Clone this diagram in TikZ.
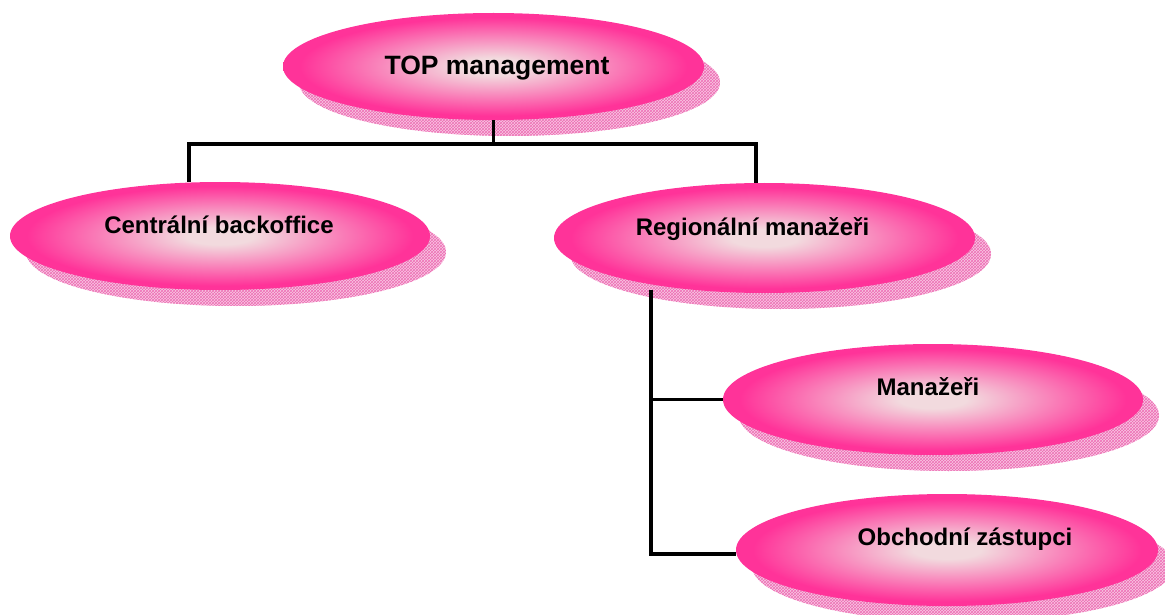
\documentclass[tikz,border=0pt]{standalone}
\usepackage{fontspec}
\setmainfont{Liberation Sans}
\usetikzlibrary{shapes.geometric,shadows,patterns,calc}
\definecolor{pcenter}{RGB}{242,218,222}
\definecolor{pedge}{RGB}{255,51,153}
\definecolor{shadowfill}{RGB}{248,200,228}
\definecolor{shadowline}{RGB}{238,110,180}
\pgfdeclareradialshading{pinkball}{\pgfpointorigin}{color(0bp)=(pcenter); color(4bp)=(pcenter); color(23bp)=(pedge); color(25bp)=(pedge); color(50bp)=(pedge)}
\tikzset{
  ell/.style={ellipse, inner sep=0pt, draw=none, shading=pinkball,
    general shadow={shadow xshift=16pt, shadow yshift=-16pt, fill=shadowfill},
    general shadow={shadow xshift=16pt, shadow yshift=-16pt, pattern=crosshatch, pattern color=shadowline}},
  lbl/.style={anchor=base, font=\bfseries\fontsize{24}{28}\selectfont, inner sep=0pt},
  conn/.style={line width=3.3pt, black, line cap=butt, line join=miter}
}
\begin{document}
\begin{tikzpicture}[x=1pt,y=-1pt]
\useasboundingbox (0,0) rectangle (1165,615);
% ellipses
\node[ell, minimum width=421pt, minimum height=107pt] (top) at (493.5,66.5) {};
\node[ell, minimum width=420pt, minimum height=108pt] (cb) at (220,236) {};
\node[ell, minimum width=421pt, minimum height=110pt] (rm) at (764.5,238) {};
\node[ell, minimum width=420pt, minimum height=111pt] (ma) at (933,399.5) {};
\node[ell, minimum width=422pt, minimum height=112pt] (ob) at (947,550) {};
% labels
\node[lbl, font=\bfseries\fontsize{26.5}{30}\selectfont] (ttop) at (497,75) {TOP management};
\node[lbl] (tcb) at (219,233) {Centrální backoffice};
\node[lbl] (trm) at (752.5,235) {Regionální manažeři};
\node[lbl] (tma) at (928,395) {Manažeři};
\node[lbl] (tob) at (965,545) {Obchodní zástupci};
% connectors
\coordinate (jt) at (493.5,144);
\coordinate (jl) at (189,144);
\coordinate (jr) at (756,144);
\coordinate (jv) at (651,290);
\draw[conn] (top.south) -- (jt);
\draw[conn] (cb.north -| jl) -- (jl) -- (jr) -- (rm.north -| jr);
\draw[conn] (jv) |- (ma.west);
\draw[conn] (jv) |- ([yshift=-4pt]ob.west);
\end{tikzpicture}
\end{document}
